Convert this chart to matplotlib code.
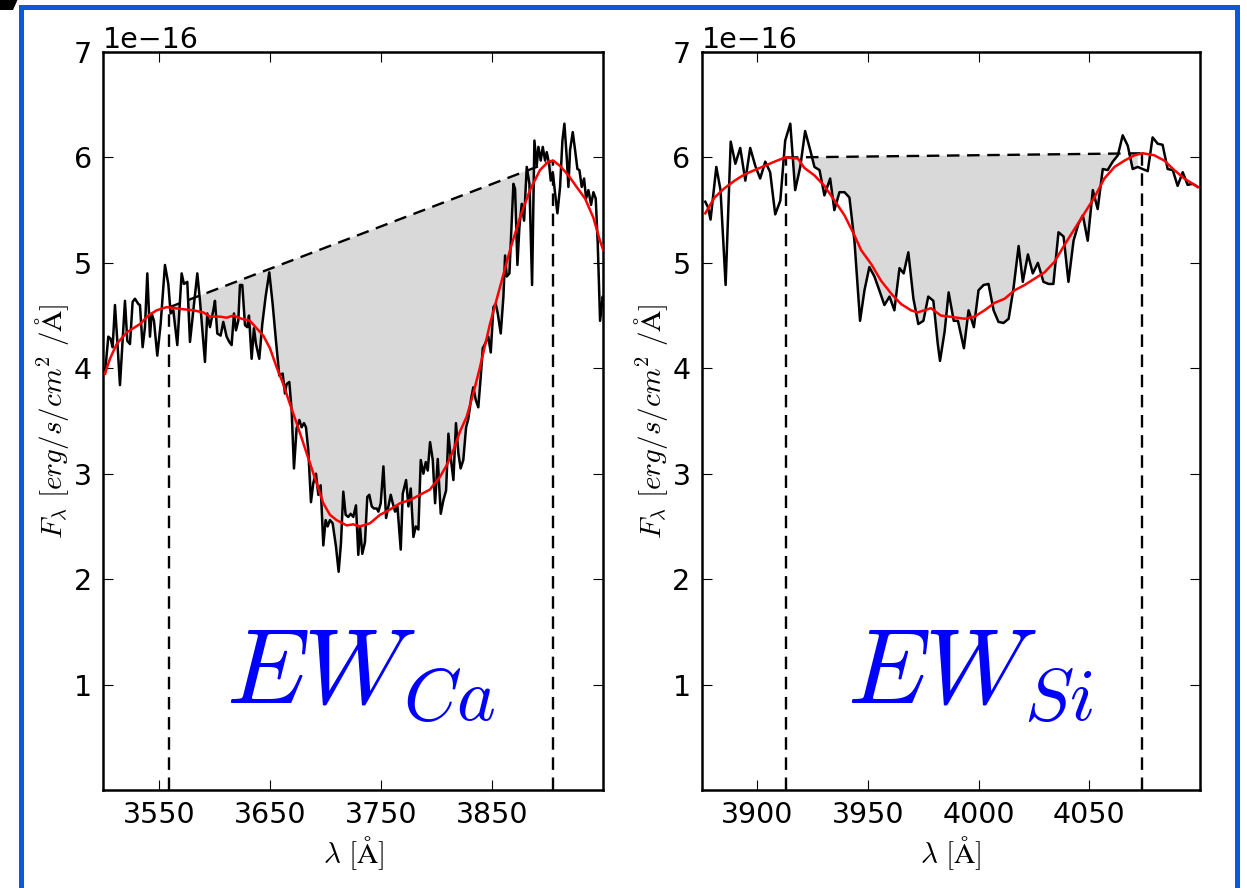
import numpy as np
import matplotlib
matplotlib.use("Agg")
import matplotlib.pyplot as plt
from matplotlib.patches import Rectangle, Polygon

plt.rcParams['mathtext.fontset'] = 'cm'
plt.rcParams['lines.scale_dashes'] = False

# ---------------- Ca II panel (black: observed flux, red: smoothed fit), units 1e-16
lam_ca = [3501.5, 3504.5, 3506.6, 3508.4, 3510.5, 3512.6, 3515.0, 3517.4, 3519.5, 3521.6,
          3524.0, 3526.4, 3528.5, 3531.5, 3533.0, 3535.4, 3537.5, 3539.6, 3542.0, 3543.5,
          3545.6, 3548.6, 3551.6, 3555.5, 3558.5, 3560.6, 3563.0, 3566.6, 3570.5, 3572.6,
          3575.6, 3578.0, 3581.0, 3584.6, 3587.0, 3591.5, 3593.6, 3596.0, 3599.0, 3600.5,
          3602.6, 3605.6, 3608.0, 3611.0, 3613.4, 3615.5,
          3617.6, 3619.4, 3621.5, 3623.0, 3625.1, 3627.5, 3629.6, 3631.1, 3633.5, 3635.6,
          3637.4, 3640.4, 3643.1, 3646.1, 3649.4, 3652.4, 3655.4, 3658.4, 3661.4, 3663.5,
          3665.0, 3667.4, 3669.5, 3671.6, 3674.0, 3676.4, 3678.5, 3680.6, 3682.4, 3684.5,
          3686.9, 3689.0, 3691.4, 3693.5, 3695.6, 3698.0, 3700.1, 3701.9, 3704.0, 3706.4,
          3709.4, 3711.8, 3713.9, 3716.0, 3718.1, 3720.5, 3722.6, 3725.0, 3727.4, 3729.5,
          3731.0, 3733.1, 3735.5, 3737.6, 3739.4,
          3741.6, 3743.6, 3746.1, 3747.6, 3749.7, 3752.1, 3754.5, 3756.6, 3758.7, 3760.5,
          3762.6, 3764.7, 3767.7, 3769.5, 3772.5, 3774.6, 3776.7, 3779.1, 3781.2, 3783.6,
          3785.7, 3788.1, 3790.2, 3792.0, 3794.1, 3796.5, 3798.6, 3801.0, 3803.7, 3806.1,
          3808.5, 3810.6, 3812.6, 3815.1, 3817.4, 3819.6, 3821.6, 3824.0, 3826.5, 3828.5,
          3831.0, 3833.0, 3835.2, 3837.5, 3839.7, 3841.5, 3843.5, 3846.5,
          3848.7, 3851.1, 3853.2, 3855.0, 3857.7, 3860.1, 3861.6, 3863.1, 3865.5, 3867.6,
          3869.1, 3870.6, 3872.7, 3874.5, 3876.6, 3878.7, 3881.1, 3883.5, 3885.9, 3888.0,
          3890.1, 3891.6, 3893.7, 3895.5, 3897.6, 3899.1, 3901.2, 3902.7, 3904.5, 3906.6,
          3908.7, 3911.1, 3913.2, 3915.0, 3917.1, 3918.6, 3920.1, 3922.5, 3924.6, 3926.7,
          3928.5, 3930.6, 3932.7, 3934.5, 3936.6, 3939.0, 3941.1, 3943.2, 3945.0, 3947.1,
          3949.5, 3950.7]
flux_ca = [3.95, 4.30, 4.28, 4.20, 4.60, 4.26, 3.84, 4.26, 4.64, 4.26,
           4.23, 4.63, 4.66, 4.61, 4.60, 4.20, 4.39, 4.90, 4.30, 4.52,
           4.45, 4.12, 4.42, 4.98, 4.80, 4.52, 4.55, 4.22, 4.90, 4.80,
           4.82, 4.25, 4.55, 4.90, 4.64, 4.06, 4.52, 4.39, 4.55, 4.64,
           4.33, 4.31, 4.44, 4.30, 4.25, 4.22,
           4.52, 4.36, 4.45, 4.79, 4.79, 4.41, 4.39, 4.50, 4.09, 4.38,
           4.23, 4.09, 4.42, 4.68, 4.91, 4.61, 4.26, 3.93, 3.95, 3.76,
           3.85, 3.87, 3.60, 3.05, 3.43, 3.51, 3.44, 3.48, 3.44, 3.22,
           2.73, 2.91, 3.00, 2.80, 2.89, 2.32, 2.56, 2.50, 2.56, 2.53,
           2.31, 2.07, 2.34, 2.83, 2.61, 2.59, 2.62, 2.59, 2.70, 2.23,
           2.50, 2.24, 2.35, 2.78, 2.80,
           2.69, 2.67, 2.67, 2.64, 2.72, 3.07, 2.58, 2.69, 2.80, 2.72,
           2.64, 2.69, 2.28, 2.81, 2.94, 2.69, 2.86, 2.40, 2.50, 2.47,
           3.13, 3.00, 3.11, 3.03, 3.30, 3.13, 2.72, 3.14, 2.62, 2.75,
           2.84, 3.38, 3.16, 2.94, 3.48, 3.19, 3.05, 3.13, 3.44, 3.52,
           3.71, 3.82, 3.70, 3.63, 3.92, 4.19, 4.23, 4.30,
           4.15, 4.58, 4.61, 4.52, 4.33, 4.68, 5.07, 4.87, 4.90, 5.40,
           5.75, 5.70, 4.98, 5.34, 5.56, 5.40, 5.91, 5.75, 4.79, 6.16,
           5.92, 6.10, 5.97, 6.10, 5.97, 6.05, 5.94, 5.78, 5.86, 5.66,
           5.47, 5.72, 6.16, 6.32, 6.00, 5.72, 6.07, 6.24, 6.07, 5.89,
           5.88, 5.72, 5.80, 5.61, 5.69, 5.55, 5.67, 5.61, 5.18, 4.45,
           4.68, 4.61]
lam_ca_fit = [3501.5, 3506, 3512, 3521, 3527, 3533, 3540.5, 3548, 3557, 3564.5,
              3572, 3581, 3590, 3596, 3605, 3611, 3617, 3624.5, 3632, 3638,
              3644, 3650, 3656, 3662, 3668, 3674, 3680, 3686, 3692, 3698,
              3704, 3710, 3719, 3725, 3731, 3740, 3749, 3758, 3767, 3776,
              3785, 3794, 3803, 3809, 3815, 3821, 3827, 3833, 3839, 3848,
              3857, 3866, 3875, 3884, 3893, 3900.5, 3905, 3911, 3918.6, 3926,
              3933.6, 3941, 3947, 3950]
fit_ca = [3.95, 4.09, 4.23, 4.34, 4.38, 4.42, 4.50, 4.55, 4.58, 4.57,
          4.56, 4.55, 4.53, 4.49, 4.49, 4.48, 4.50, 4.47, 4.45, 4.38,
          4.31, 4.19, 4.01, 3.85, 3.66, 3.48, 3.29, 3.10, 2.91, 2.72,
          2.61, 2.56, 2.51, 2.52, 2.50, 2.53, 2.61, 2.66, 2.72, 2.75,
          2.80, 2.85, 2.97, 3.08, 3.22, 3.40, 3.54, 3.76, 4.01, 4.42,
          4.77, 5.12, 5.43, 5.69, 5.88, 5.96, 5.97, 5.92, 5.83, 5.72,
          5.61, 5.43, 5.21, 5.12]
limits_ca = [3559, 3905]

# ---------------- Si II panel
lam_si = [3876.6, 3877.8, 3879.0, 3881.6, 3883.5, 3885.8, 3888.1, 3890.2, 3892.4, 3894.7,
          3896.9, 3899.2, 3901.4, 3903.7, 3905.9, 3908.2, 3910.5, 3912.7, 3915.0, 3917.2,
          3919.5, 3921.7, 3924.0, 3925.9, 3928.2, 3930.4, 3933.0, 3934.9, 3937.2, 3939.5,
          3941.7, 3944.0, 3946.5, 3948.5, 3950.7, 3953.0, 3955.2, 3957.5, 3959.8, 3962.0,
          3964.3, 3966.2, 3968.3, 3970.6, 3972.8, 3975.1, 3977.3, 3979.6, 3981.6, 3982.6,
          3984.7, 3986.5, 3988.8, 3990.7, 3993.4, 3995.5, 3997.9, 4000.0, 4002.3, 4004.5,
          4006.8, 4009.0, 4011.3, 4013.6, 4015.8, 4018.1, 4020.0, 4022.3, 4024.5, 4026.8,
          4029.3, 4031.6, 4033.8, 4036.1, 4038.4, 4040.6, 4042.9, 4045.1, 4047.1, 4049.3,
          4051.6, 4053.8, 4056.1, 4058.3, 4060.6, 4062.9, 4065.1, 4067.4, 4069.6, 4071.9,
          4074.1, 4076.4, 4078.6, 4080.9, 4083.1, 4085.4, 4087.7, 4089.9, 4092.2, 4094.4,
          4096.7, 4099.0]
flux_si = [5.58, 5.53, 5.41, 5.91, 5.69, 4.79, 6.15, 5.94, 6.09, 5.78,
           6.09, 5.92, 5.80, 5.96, 5.86, 5.46, 5.59, 6.16, 6.32, 5.69,
           5.91, 6.25, 6.07, 5.91, 5.88, 5.64, 5.80, 5.50, 5.67, 5.67,
           5.62, 5.20, 4.45, 4.74, 4.96, 4.87, 4.74, 4.60, 4.68, 4.55,
           4.95, 4.90, 5.10, 4.66, 4.42, 4.45, 4.68, 4.64, 4.23, 4.07,
           4.35, 4.72, 4.45, 4.45, 4.19, 4.55, 4.39, 4.74, 4.79, 4.80,
           4.55, 4.44, 4.43, 4.47, 4.76, 5.16, 4.82, 5.08, 4.90, 5.00,
           4.82, 4.80, 4.80, 5.29, 5.25, 4.82, 5.21, 5.37, 5.45, 5.21,
           5.69, 5.51, 5.89, 5.88, 5.96, 6.02, 6.21, 6.11, 5.89, 5.91,
           5.89, 5.87, 6.19, 6.13, 6.12, 5.89, 5.88, 5.73, 5.86, 5.74,
           5.75, 5.72]
lam_si_fit = [3876.6, 3880.8, 3885.4, 3889.9, 3894.4, 3898.9, 3903.4, 3907.9, 3912.7, 3918.4,
              3921.4, 3925.9, 3930.4, 3935.0, 3939.5, 3944.0, 3947.0, 3951.5, 3956.0, 3960.5,
              3965.0, 3969.5, 3972.5, 3978.5, 3983.0, 3986.8, 3993.7, 3998.2, 4002.7, 4007.2,
              4011.8, 4016.3, 4020.8, 4025.3, 4029.8, 4034.3, 4038.8, 4043.3, 4047.8, 4052.3,
              4056.8, 4061.4, 4065.9, 4070.4, 4074.1, 4079.4, 4083.9, 4088.4, 4092.9, 4099.0]
fit_si = [5.47, 5.62, 5.71, 5.78, 5.84, 5.88, 5.92, 5.96, 6.00, 5.99,
          5.90, 5.83, 5.73, 5.59, 5.45, 5.26, 5.12, 4.99, 4.83, 4.71,
          4.61, 4.55, 4.53, 4.57, 4.50, 4.49, 4.47, 4.49, 4.55, 4.62,
          4.66, 4.74, 4.79, 4.85, 4.91, 5.01, 5.17, 5.32, 5.47, 5.62,
          5.80, 5.91, 5.97, 6.02, 6.04, 6.02, 5.97, 5.88, 5.80, 5.72]
limits_si = [3913, 4074]

SCALE = 1e-16
yticks = [1, 2, 3, 4, 5, 6, 7]

W, H = 1247, 888
fig = plt.figure(figsize=(W / 100, H / 100), dpi=100)

# blue frame and corner mark
fig.patches.append(Rectangle((20.5 / W, -0.05), (1236.5 - 20.5) / W, 1.05 - 7.5 / H,
                             transform=fig.transFigure, fill=False,
                             edgecolor='#0a5ad6', linewidth=3.6, zorder=0))
fig.patches.append(Polygon([(0, 1), (17.5 / W, 1), (13 / W, 1 - 10 / H), (0, 1 - 10 / H)],
                           closed=True, transform=fig.transFigure, facecolor='black',
                           edgecolor='none'))

ax1 = fig.add_axes([103.3 / W, 98 / H, 500 / W, 738 / H])
ax2 = fig.add_axes([701.7 / W, 98 / H, 498.3 / W, 738 / H])


def draw(ax, lam, flux, lamf, fit, limits, xlim, xticks, label, tx):
    lam = np.asarray(lam)
    flux = np.asarray(flux) * SCALE
    lamf = np.asarray(lamf)
    fit = np.asarray(fit) * SCALE
    l1, l2 = limits
    c1, c2 = np.interp(l1, lamf, fit), np.interp(l2, lamf, fit)
    cont = np.interp(lam, [l1, l2], [c1, c2])
    mask = (lam >= l1) & (lam <= l2) & (flux < cont)
    ax.fill_between(lam, flux, cont, where=mask, interpolate=True,
                    color='#d9d9d9', linewidth=0, zorder=1)
    ax.plot(lam, flux, color='black', lw=1.8, zorder=3)
    ax.plot(lamf, fit, color='red', lw=1.8, zorder=4)
    ax.plot([l1, l2], [c1, c2], color='black', lw=1.7, dashes=(9, 5.5), zorder=2)
    ax.plot([l1, l1], [0, c1], color='black', lw=1.7, dashes=(9, 5.5), zorder=2)
    ax.plot([l2, l2], [0, c2], color='black', lw=1.7, dashes=(9, 5.5), zorder=2)
    ax.set_xlim(*xlim)
    ax.set_ylim(0, 7 * SCALE)
    ax.set_xticks(xticks)
    ax.set_yticks([v * SCALE for v in yticks])
    ax.tick_params(direction='in', top=True, right=True, length=7, width=0.8,
                   labelsize=20.5, pad=8)
    ax.yaxis.get_offset_text().set_fontsize(20.5)
    for s in ax.spines.values():
        s.set_linewidth(1.8)
    ax.set_xlabel(r'$\lambda\ [\mathrm{\AA}]$', fontsize=21, labelpad=4)
    ax.set_ylabel(r'$F_{\lambda}\ [erg/s/cm^2\ /\mathrm{\AA}]$', fontsize=21, labelpad=2)
    ax.text(tx, 0.117, label, transform=ax.transAxes, ha='center', va='baseline',
            fontsize=76, color='blue')


draw(ax1, lam_ca, flux_ca, lam_ca_fit, fit_ca, limits_ca, (3500, 3950),
     [3550, 3650, 3750, 3850], r'$EW_{Ca}$', 0.515)
draw(ax2, lam_si, flux_si, lam_si_fit, fit_si, limits_si, (3875, 4100),
     [3900, 3950, 4000, 4050], r'$EW_{Si}$', 0.54)

fig.savefig('out.png', dpi=100)
